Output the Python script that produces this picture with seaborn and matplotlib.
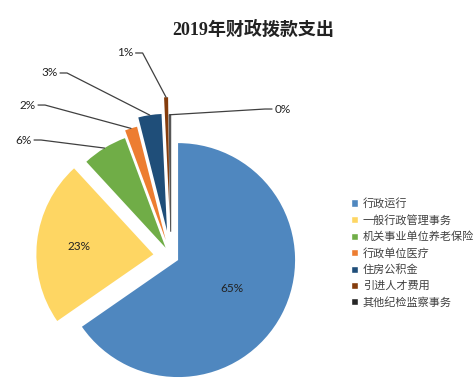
import matplotlib
matplotlib.use('Agg')
import numpy as np
import seaborn as sns
import matplotlib.pyplot as plt
from matplotlib.patches import Patch

# data
categories = ['行政运行', '一般行政管理事务', '机关事业单位养老保险', '行政单位医疗',
              '住房公积金', '引进人才费用', '其他纪检监察事务']
shares = [65.35, 22.8, 6.2, 1.7, 3.2, 0.55, 0.2]
colors = ['#4F87BF', '#FED663', '#70AD47', '#ED7D31', '#1F4E79', '#843C0C', '#262626']

# layout
explode = [0.07, 0.15, 0.085, 0.145, 0.22, 0.36, 0.21]
inner_dist = {0: 0.52, 1: 0.64}
outer_xy = {2: (-1.259, 0.994), 3: (-1.225, 1.293), 4: (-1.037, 1.567),
            5: (-0.391, 1.738), 6: (0.955, 1.259)}

sns.set_style('white')
plt.rcParams['font.family'] = ['Noto Sans CJK SC', 'DejaVu Sans']

fig = plt.figure(figsize=(4.77, 3.88), dpi=100)
ax = fig.add_axes([0, 0, 1, 1])
wedges, _ = ax.pie(shares, colors=colors, explode=explode, startangle=90,
                   counterclock=False, wedgeprops=dict(linewidth=0))
wedges[-1].set_edgecolor('#555555')
wedges[-1].set_linewidth(0.8)
ax.set_aspect('auto')
ax.set_xlim(-1.46, 2.617)
ax.set_ylim(-1.126, 2.191)
ax.axis('off')

total = sum(shares)
pct_font = dict(fontsize=8.5, color='#222222', family=['Lato', 'DejaVu Sans'])
for i, w in enumerate(wedges):
    txt = f'{shares[i] / total * 100:.0f}%'
    mid = np.deg2rad((w.theta1 + w.theta2) / 2)
    cx, cy = w.center
    if i in inner_dist:
        d = inner_dist[i]
        ax.text(cx + d * np.cos(mid), cy + d * np.sin(mid), txt,
                ha='center', va='center', **pct_font)
    else:
        tx, ty = outer_xy[i]
        ax.text(tx, ty, txt, ha='center', va='center', **pct_font)
        px, py = cx + w.r * np.cos(mid), cy + w.r * np.sin(mid)
        side = 1 if tx < px else -1
        x0 = tx + side * 0.09
        ax.plot([x0, x0 + side * 0.06, px], [ty, ty, py], color='#404040', lw=0.9)

handles = [Patch(facecolor=c, label=l) for c, l in zip(colors, categories)]
fig.legend(handles=handles, loc='upper left', bbox_to_anchor=(351 / 477, 1 - 198 / 388),
           frameon=False, fontsize=8, handlelength=0.6, handleheight=0.6,
           handletextpad=0.45, labelspacing=0.52, borderaxespad=0, borderpad=0,
           labelcolor='#404040')

fig.text(253 / 477, 1 - 30 / 388, '2019年财政拨款支出', ha='center', va='center',
         fontsize=13, fontweight='bold', color='#222222',
         family=['Liberation Serif', 'Noto Sans CJK SC'])

fig.savefig('out.png', dpi=100)
